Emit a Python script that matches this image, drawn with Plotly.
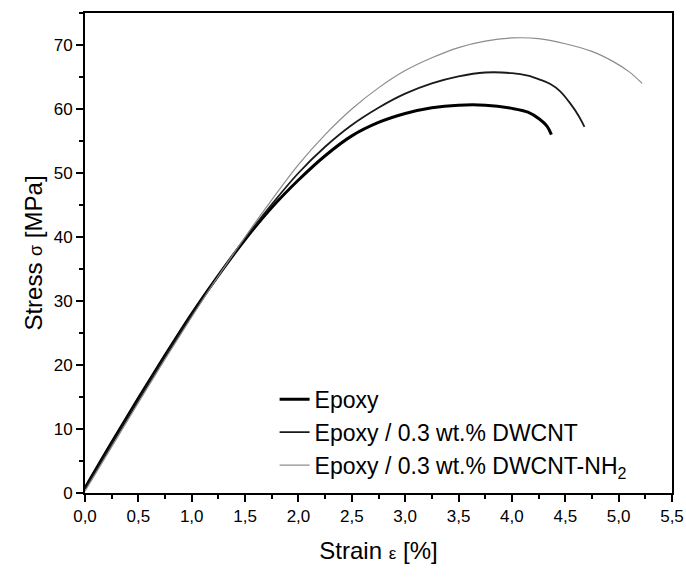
import plotly.graph_objects as go

strain_epoxy = [0.0, 0.25, 0.5, 0.75, 1.0, 1.25, 1.5, 1.75, 2.0, 2.25, 2.5, 2.75, 3.0, 3.25, 3.5, 3.75, 4.0, 4.15, 4.26, 4.33, 4.37]
stress_epoxy = [0.8, 7.9, 14.8, 21.5, 28.0, 34.0, 39.6, 44.6, 48.9, 52.7, 55.8, 57.9, 59.3, 60.2, 60.6, 60.6, 60.1, 59.5, 58.4, 57.3, 56.0]

strain_dwcnt = [0.0, 0.25, 0.5, 0.75, 1.0, 1.25, 1.5, 1.75, 2.0, 2.25, 2.5, 2.75, 3.0, 3.25, 3.5, 3.75, 4.0, 4.15, 4.26, 4.36, 4.45, 4.55, 4.63, 4.68]
stress_dwcnt = [0.6, 7.6, 14.5, 21.3, 27.8, 34.0, 39.8, 45.1, 50.0, 54.1, 57.5, 60.2, 62.4, 64.0, 65.1, 65.7, 65.6, 65.2, 64.6, 63.9, 62.8, 60.8, 58.8, 57.2]

strain_nh2 = [0.0, 0.25, 0.5, 0.75, 1.0, 1.25, 1.5, 1.75, 2.0, 2.25, 2.5, 2.75, 3.0, 3.25, 3.5, 3.75, 4.0, 4.25, 4.5, 4.75, 4.95, 5.1, 5.22]
stress_nh2 = [0.3, 7.2, 14.1, 20.9, 27.5, 33.9, 40.0, 45.8, 51.3, 56.0, 60.0, 63.3, 66.0, 68.0, 69.6, 70.6, 71.1, 71.0, 70.2, 69.0, 67.4, 65.8, 64.0]

names = ["Epoxy", "Epoxy / 0.3 wt.% DWCNT", "Epoxy / 0.3 wt.% DWCNT-NH<sub>2</sub>"]
x_ticks = [0.0, 0.5, 1.0, 1.5, 2.0, 2.5, 3.0, 3.5, 4.0, 4.5, 5.0, 5.5]
y_ticks = [0, 10, 20, 30, 40, 50, 60, 70]

font = "Liberation Sans, Arial, sans-serif"

fig = go.Figure()
fig.add_trace(go.Scatter(x=strain_epoxy, y=stress_epoxy, mode="lines", name=names[0], legendgroup="a",
                         line=dict(color="#000000", width=3, shape="spline")))
fig.add_trace(go.Scatter(x=strain_dwcnt, y=stress_dwcnt, mode="lines", name=names[1], legendgroup="b",
                         line=dict(color="#1a1a1a", width=1.8, shape="spline")))
fig.add_trace(go.Scatter(x=strain_nh2, y=stress_nh2, mode="lines", name=names[2], legendgroup="c",
                         line=dict(color="#8c8c8c", width=1.2, shape="spline")))

axis_common = dict(showline=True, linecolor="black", linewidth=2, mirror=True,
                   ticks="outside", ticklen=7, tickwidth=2, tickcolor="black",
                   showgrid=False, zeroline=False, automargin=False,
                   tickfont=dict(family=font, size=17, color="black"))

fig.update_xaxes(range=[0, 5.5], tickvals=x_ticks, tickformat=".1f",
                 minor=dict(dtick=0.25, tick0=0, ticks="outside", ticklen=4, tickwidth=1.5, tickcolor="black"),
                 title=dict(text="Strain <span style='font-size:17px'>ε</span> [%]",
                            font=dict(family=font, size=24, color="black"), standoff=17),
                 **axis_common)
fig.update_yaxes(range=[0, 75], tickvals=y_ticks,
                 minor=dict(dtick=5, tick0=0, ticks="outside", ticklen=4, tickwidth=1.5, tickcolor="black"),
                 title=dict(text="Stress <span style='font-size:18px'>σ</span> [MPa]",
                            font=dict(family=font, size=24, color="black"), standoff=4),
                 **axis_common)

fig.update_layout(
    width=686, height=578,
    margin=dict(l=85, r=14, t=13, b=85),
    paper_bgcolor="white", plot_bgcolor="white",
    separators=",.",
    font=dict(family=font, color="black"),
    legend=dict(x=0.323, y=0.24, xanchor="left", yanchor="top",
                bgcolor="rgba(0,0,0,0)", borderwidth=0,
                font=dict(family=font, size=23, color="black"),
                tracegroupgap=0, itemwidth=30),
    showlegend=True,
)

fig.write_html("out.html", config={"displayModeBar": False},
               post_script="document.body.style.margin='0';document.body.style.overflow='hidden';")
